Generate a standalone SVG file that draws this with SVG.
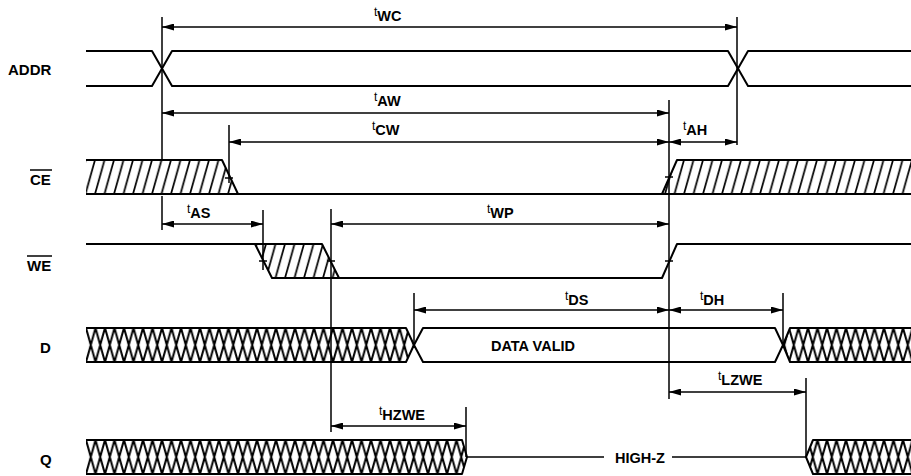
<svg xmlns="http://www.w3.org/2000/svg" width="911" height="476" viewBox="0 0 911 476">
<style>
.w{fill:none;stroke:#000;stroke-width:2;stroke-linejoin:round}
.v{fill:none;stroke:#000;stroke-width:1.5}
.a{fill:none;stroke:#000;stroke-width:1.5;marker-start:url(#ah);marker-end:url(#ah)}
.tk{fill:none;stroke:#000;stroke-width:1.5}
.sig{font-family:"Liberation Sans",Arial,sans-serif;font-weight:bold;font-size:15px;fill:#000}
.lbl{font-family:"Liberation Sans",Arial,sans-serif;font-weight:bold;font-size:14.5px;fill:#000}
.lbl .t{font-size:12px;font-weight:normal}
</style>
<defs>
<marker id="ah" viewBox="0 0 12 7" refX="12" refY="3.5" markerWidth="12" markerHeight="7" markerUnits="userSpaceOnUse" orient="auto-start-reverse">
<path d="M0,0 L12,3.5 L0,7 Z" fill="#000"/>
</marker>
<pattern id="hCE" patternUnits="userSpaceOnUse" x="0" y="160" width="9.5" height="34">
<path d="M-9.5,34 L0,0 M0,34 L9.5,0 M9.5,34 L19,0" stroke="#000" stroke-width="1.7"/>
</pattern>
<pattern id="hWE" patternUnits="userSpaceOnUse" x="0" y="244" width="9.5" height="34">
<path d="M-9.5,34 L0,0 M0,34 L9.5,0 M9.5,34 L19,0" stroke="#000" stroke-width="1.7"/>
</pattern>
<pattern id="xD" patternUnits="userSpaceOnUse" x="86" y="328" width="9.5" height="34">
<path d="M-9.5,34 L0,0 M0,34 L9.5,0 M9.5,34 L19,0 M-9.5,0 L0,34 M0,0 L9.5,34 M9.5,0 L19,34" stroke="#000" stroke-width="2"/>
</pattern>
<pattern id="xQ" patternUnits="userSpaceOnUse" x="86" y="440" width="9.5" height="34">
<path d="M-9.5,34 L0,0 M0,34 L9.5,0 M9.5,34 L19,0 M-9.5,0 L0,34 M0,0 L9.5,34 M9.5,0 L19,34" stroke="#000" stroke-width="2"/>
</pattern>
</defs>
<rect width="911" height="476" fill="#fff"/>

<g id="labels">
<text class="sig" x="8" y="75">ADDR</text>
<text class="sig" x="30" y="185">CE</text>
<line x1="30" y1="170" x2="52" y2="170" stroke="#000" stroke-width="1.5"/>
<text class="sig" x="27" y="271">WE</text>
<line x1="27" y1="256" x2="52" y2="256" stroke="#000" stroke-width="1.5"/>
<text class="sig" x="40" y="353">D</text>
<text class="sig" x="40" y="465">Q</text>
</g>

<g id="addr">
<path class="w" d="M86,51 H152 L172,86 H728 L748,51 H911 M86,86 H152 L172,51 H728 L748,86 H911"/>
</g>

<g id="ce">
<path d="M86,160 H222 L238,194 H86 Z M662,194 L677,160 H911 V194 Z" fill="url(#hCE)"/>
<path class="w" d="M86,160 H222 L238,194 M86,194 H911 M662,194 L677,160 H911"/>
</g>

<g id="we">
<path d="M255,244 H322 L339,278 H272 Z" fill="url(#hWE)"/>
<path class="w" d="M86,244 H322 L339,278 M255,244 L272,278 H662 L677,244 H911"/>
</g>

<g id="d">
<path d="M86,328 H406 L414,345 L406,362 H86 Z M783,345 L790,328 H911 V362 H790 Z" fill="url(#xD)"/>
<path class="w" d="M86,328 H406 L414,345 L406,362 H86 M414,345 L423,328 H775 L783,345 L775,362 H423 Z M911,328 H790 L783,345 L790,362 H911"/>
<text class="lbl" x="533" y="351" text-anchor="middle">DATA VALID</text>
</g>

<g id="q">
<path d="M86,440 H462 L467,457 L462,474 H86 Z M806,457 L813,440 H911 V474 H813 Z" fill="url(#xQ)"/>
<path class="w" d="M86,440 H462 L467,457 L462,474 H86 M911,440 H813 L806,457 L813,474 H911"/>
<path class="v" d="M467,457 H604 M672,457 H806"/>
<text class="lbl" x="640" y="463" text-anchor="middle">HIGH-Z</text>
</g>

<g id="connectors">
<path class="v" d="M162,17 V160 M162,196 V230 M737,17 V145 M229,125 V183 M669,100 V399 M263,210 V270 M331,209 V432 M414,293 V345 M783,293 V345 M806,378 V457 M466,407 V457"/>
<path class="tk" d="M225,178 H233 M665,177 H673 M259,261 H267 M327,261 H335 M665,261 H673"/>
<line class="a" x1="162" y1="27" x2="737" y2="27"/>
<line class="a" x1="162" y1="113" x2="669" y2="113"/>
<line class="a" x1="229" y1="142" x2="669" y2="142"/>
<line class="a" x1="669" y1="142" x2="737" y2="142"/>
<line class="a" x1="162" y1="224" x2="263" y2="224"/>
<line class="a" x1="331" y1="224" x2="669" y2="224"/>
<line class="a" x1="414" y1="310" x2="669" y2="310"/>
<line class="a" x1="669" y1="310" x2="783" y2="310"/>
<line class="a" x1="669" y1="392" x2="806" y2="392"/>
<line class="a" x1="331" y1="426" x2="466" y2="426"/>
<text class="lbl" x="374" y="21"><tspan class="t" dy="-5">t</tspan><tspan dy="5">WC</tspan></text>
<text class="lbl" x="374" y="106"><tspan class="t" dy="-5">t</tspan><tspan dy="5">AW</tspan></text>
<text class="lbl" x="372" y="135"><tspan class="t" dy="-5">t</tspan><tspan dy="5">CW</tspan></text>
<text class="lbl" x="683" y="135"><tspan class="t" dy="-5">t</tspan><tspan dy="5">AH</tspan></text>
<text class="lbl" x="187" y="218"><tspan class="t" dy="-5">t</tspan><tspan dy="5">AS</tspan></text>
<text class="lbl" x="487" y="218"><tspan class="t" dy="-5">t</tspan><tspan dy="5">WP</tspan></text>
<text class="lbl" x="565" y="305"><tspan class="t" dy="-5">t</tspan><tspan dy="5">DS</tspan></text>
<text class="lbl" x="700" y="305"><tspan class="t" dy="-5">t</tspan><tspan dy="5">DH</tspan></text>
<text class="lbl" x="718" y="385"><tspan class="t" dy="-5">t</tspan><tspan dy="5">LZWE</tspan></text>
<text class="lbl" x="379" y="420"><tspan class="t" dy="-5">t</tspan><tspan dy="5">HZWE</tspan></text>
</g>
</svg>
